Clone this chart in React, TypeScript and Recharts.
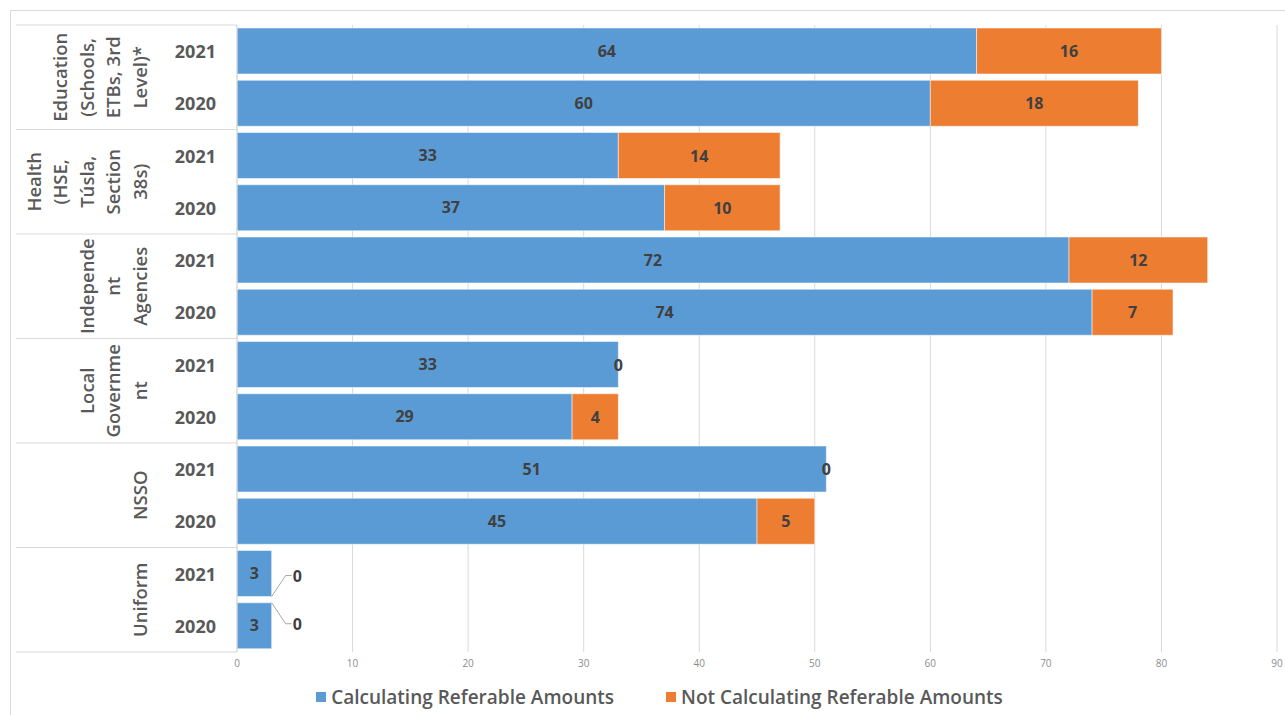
import React from "react";
import { Bar, BarChart, CartesianGrid, LabelList, Legend, XAxis, YAxis } from "recharts";

// sector groups, two years each (2021 first)
const groups = [
  ["Education", "(Schools,", "ETBs, 3rd", "Level)*"],
  ["Health", "(HSE,", "Túsla,", "Section", "38s)"],
  ["Independe", "nt", "Agencies"],
  ["Local", "Governme", "nt"],
  ["NSSO"],
  ["Uniform"],
];
const years = ["2021", "2020"];

const calculating = [64, 60, 33, 37, 72, 74, 33, 29, 51, 45, 3, 3];
const notCalculating = [16, 18, 14, 10, 12, 7, 0, 4, 0, 5, 0, 0];

const xTicks = [0, 10, 20, 30, 40, 50, 60, 70, 80, 90];

const BLUE = "#5B9BD5";
const ORANGE = "#ED7D31";
const GRID = "#d9d9d9";
const FONT = "'Open Sans', sans-serif";
const LABEL_STYLE = { fontFamily: FONT, fontSize: 16, fontWeight: 700, fill: "#404040" };

const rows = calculating.map((calc, i) => ({
  key: `${i}`,
  group: Math.floor(i / 2),
  year: years[i % 2],
  calc,
  notCalc: notCalculating[i],
}));

const W = 1274;
const H = 704;
const MARGIN = { top: 14, right: 8, bottom: 6, left: 0 };
const Y_AXIS_W = 226;
const X_AXIS_H = 33;
const LEGEND_H = 24;
const PLOT_H = H - MARGIN.top - MARGIN.bottom - X_AXIS_H - LEGEND_H;
const BAND = PLOT_H / rows.length;

function RowTick(props: any) {
  const { y, index } = props;
  const row = rows[index];
  const right = MARGIN.left + Y_AXIS_W;
  const parts: React.ReactNode[] = [];
  parts.push(
    <text
      key="yr"
      x={right - 21}
      y={y}
      textAnchor="end"
      dominantBaseline="central"
      fontFamily={FONT}
      fontSize={18}
      fontWeight={700}
      fill="#595959"
    >
      {row.year}
    </text>
  );
  if (index % 2 === 0) {
    const top = y - BAND / 2;
    const cy = top + BAND;
    const lines = groups[row.group];
    parts.push(<line key="top" x1={5} x2={right} y1={top} y2={top} stroke={GRID} />);
    lines.forEach((ln, k) => {
      const cx = 128 - (lines.length - 1 - k) * 26.5;
      parts.push(
        <text
          key={`g${k}`}
          x={cx}
          y={cy}
          transform={`rotate(-90, ${cx}, ${cy})`}
          textAnchor="middle"
          dominantBaseline="central"
          fontFamily={FONT}
          fontSize={18.5}
          fontWeight={600}
          fill="#595959"
        >
          {ln}
        </text>
      );
    });
  }
  if (index === rows.length - 1) {
    const bot = y + BAND / 2;
    parts.push(<line key="bot" x1={5} x2={right} y1={bot} y2={bot} stroke={GRID} />);
  }
  return <g>{parts}</g>;
}

// zero "not calculating" values sit at the end of the blue bar;
// on very short bars they are pulled out with a leader line
function ZeroLabel(props: any) {
  const { x, y, width, height, index } = props;
  const row = rows[index];
  if (!row || row.notCalc !== 0) return null;
  const end = x + width;
  const cy = y + height / 2;
  if (row.calc < 5) {
    const up = index % 2 === 0;
    const sy = up ? y + height : y;
    const ey = up ? cy + 2 : cy - 2;
    return (
      <g>
        <polyline
          points={`${end},${sy} ${end + 14},${ey} ${end + 20},${ey}`}
          fill="none"
          stroke="#a6a6a6"
          strokeWidth={1}
        />
        <text x={end + 21} y={ey} dominantBaseline="central" {...LABEL_STYLE}>
          {row.notCalc}
        </text>
      </g>
    );
  }
  return (
    <text x={end} y={cy} textAnchor="middle" dominantBaseline="central" {...LABEL_STYLE}>
      {row.notCalc}
    </text>
  );
}

function NotCalcLabel(props: any) {
  const { x, y, width, height, value } = props;
  if (!value) return null;
  return (
    <text x={x + width / 2} y={y + height / 2} textAnchor="middle" dominantBaseline="central" {...LABEL_STYLE}>
      {value}
    </text>
  );
}

function LegendBox() {
  const item = (color: string, label: string) => (
    <span style={{ display: "inline-flex", alignItems: "center", gap: 5 }}>
      <span style={{ width: 10, height: 10, background: color, display: "inline-block" }} />
      <span>{label}</span>
    </span>
  );
  return (
    <div
      style={{
        display: "flex",
        justifyContent: "center",
        gap: 52,
        paddingLeft: 31,
        fontFamily: FONT,
        fontSize: 19,
        fontWeight: 600,
        color: "#595959",
        height: LEGEND_H,
        alignItems: "center",
      }}
    >
      {item(BLUE, "Calculating Referable Amounts")}
      {item(ORANGE, "Not Calculating Referable Amounts")}
    </div>
  );
}

export default function App() {
  return (
    <div
      style={{
        position: "fixed",
        left: 10,
        top: 10,
        width: 1290,
        height: 720,
        borderLeft: `1px solid ${GRID}`,
        borderTop: `1px solid ${GRID}`,
        background: "#fff",
        overflow: "hidden",
      }}
    >
      <BarChart width={W} height={H} data={rows} layout="vertical" margin={MARGIN} barSize={46}>
        <CartesianGrid horizontal={false} stroke={GRID} />
        <XAxis
          type="number"
          domain={[0, 90]}
          ticks={xTicks}
          height={X_AXIS_H}
          axisLine={false}
          tickLine={false}
          tick={{ fontSize: 10, fill: "#8c8c8c", fontFamily: FONT }}
        />
        <YAxis
          type="category"
          dataKey="key"
          width={Y_AXIS_W}
          axisLine={{ stroke: GRID }}
          tickLine={false}
          interval={0}
          tick={<RowTick />}
        />
        <Legend verticalAlign="bottom" height={LEGEND_H} content={<LegendBox />} />
        <Bar dataKey="calc" stackId="a" fill={BLUE} stroke="#fff" strokeWidth={0.5} isAnimationActive={false}>
          <LabelList dataKey="calc" position="center" style={LABEL_STYLE} />
          <LabelList dataKey="notCalc" content={<ZeroLabel />} />
        </Bar>
        <Bar dataKey="notCalc" stackId="a" fill={ORANGE} stroke="#fff" strokeWidth={0.5} isAnimationActive={false}>
          <LabelList dataKey="notCalc" content={<NotCalcLabel />} />
        </Bar>
      </BarChart>
    </div>
  );
}
